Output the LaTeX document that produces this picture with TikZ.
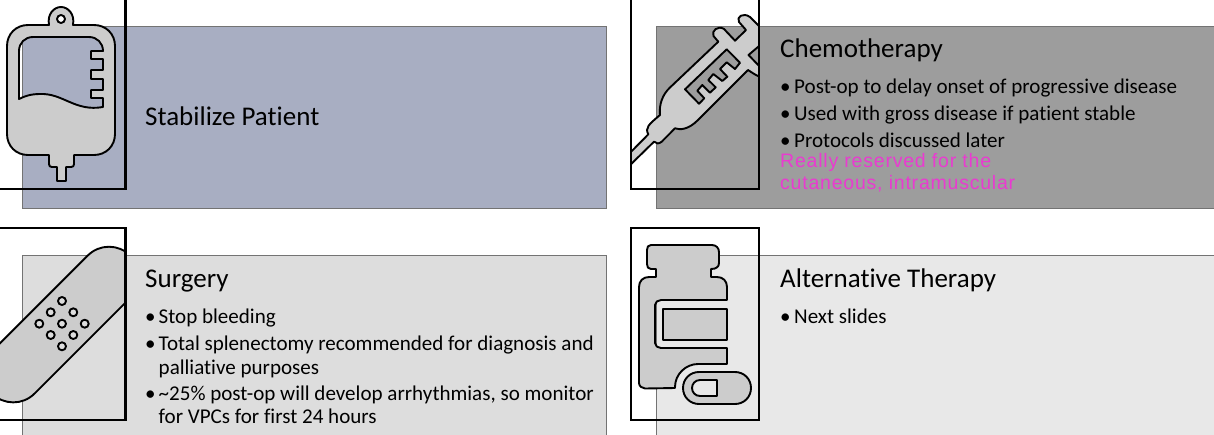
\documentclass[tikz,border=0pt]{standalone}
\usepackage{fontspec}
\setmainfont{Carlito}[Ligatures=CommonOff]
\newfontfamily\magfont[LetterSpace=4]{Liberation Sans}
\definecolor{panelA}{HTML}{A8AEC2}
\definecolor{panelB}{HTML}{9D9D9D}
\definecolor{panelC}{HTML}{DDDDDD}
\definecolor{panelD}{HTML}{E8E8E8}
\definecolor{icongray}{HTML}{CCCCCC}
\definecolor{mag}{HTML}{E93BD0}
\tikzset{
 panel/.style={draw=black!55,line width=0.8pt},
 frame/.style={draw=black,line width=2.3pt},
 icon/.style={draw=black,fill=icongray,line width=1.9pt,line join=round,even odd rule},
 title/.style={anchor=base west,inner sep=0pt,font=\fontsize{27}{30}\selectfont,text=black},
 body/.style={anchor=base west,inner sep=0pt,font=\fontsize{21.05}{24}\selectfont,text=black},
 dotmark/.style={anchor=base west,inner sep=0pt,font=\fontsize{21}{24}\selectfont},
 magtext/.style={anchor=base west,inner sep=0pt,font=\magfont\fontsize{19.5}{22}\selectfont,text=mag},
}
\begin{document}
\begin{tikzpicture}[x=1pt,y=-1pt]
\useasboundingbox (0,0) rectangle (1214,434);
\fill[white] (0,0) rectangle (1214,434);
% panels
\path[panel,fill=panelA] (22.5,26) rectangle (606.5,208);
\path[panel,fill=panelB] (656,26) rectangle (1220,208);
\path[panel,fill=panelC] (22.5,255.5) rectangle (606.5,440);
\path[panel,fill=panelD] (656,255.5) rectangle (1220,440);
% IV bag
\path[icon] (28,25) -- (49,25) .. controls (47,14) and (54,7) .. (61,7) .. controls (68,7) and (75,14) .. (73,25) -- (94,25)
 .. controls (106,25) and (115,34) .. (115,46) -- (115,134) .. controls (115,146) and (106,155) .. (94,155) -- (74,155) -- (74,164) .. controls (74,166) and (73,167) .. (71,167) -- (66,167) -- (66,181) -- (57,181) -- (57,167) -- (52,167) .. controls (50,167) and (49,166) .. (49,164) -- (49,155) -- (28,155)
 .. controls (16,155) and (7,146) .. (7,134) -- (7,46) .. controls (7,34) and (16,25) .. (28,25) -- cycle
 (61,19) circle (4)
 (19,99) -- (19,51) .. controls (19,43) and (25,37) .. (33,37) -- (89,37) .. controls (97,37) and (103,43) .. (103,51) -- (91,51) -- (91,59) -- (103,59) -- (103,70) -- (91,70) -- (91,79) -- (103,79) -- (103,90) -- (91,90) -- (91,98) -- (103,98) -- (103,107)
 .. controls (75,112) and (63,93) .. (40,94) .. controls (31,94) and (25,96) .. (19,99) -- cycle;
\draw[frame] (-3,-3) rectangle (125.5,189);
\node[title] (t1) at (145,125) {Stabilize Patient};
% syringe
\begin{scope}
\clip (631,0) rectangle (759,189);
\path[icon] (625,158) -- (648.3,134.3) .. controls (645,128) and (648,125) .. (660,115) .. controls (659,105) and (662,95) .. (670,87.5) -- (718.3,41.7) -- (713.5,36) .. controls (711,31) and (718,25) .. (724,29) -- (735,40.7) -- (746,30) -- (739,22) .. controls (736,17) and (743,12) .. (750,17) -- (765,32) -- (765,41) -- (748.5,55) -- (765,72) -- (765,78) .. controls (761,78) and (757,76) .. (748,70) -- (698,120) .. controls (688,130) and (680,130) .. (675,128.3) -- (661.7,141.7) .. controls (659,144) and (656,144) .. (654,141.7) -- (625,170) -- cycle
 (685,89.3) -- (726.7,49.3) -- (740,62.7) -- (735,69) -- (726.7,62.3) -- (720,69) -- (727.3,76.7) -- (722.3,81) -- (713.3,74) -- (708.3,80) -- (715.7,87.3) -- (710,92.7) -- (702.3,85) -- (697.3,90.7) -- (704.3,98.3) -- (699,103.7) -- cycle;
\end{scope}
\draw[frame] (631,-3) rectangle (759,189);
\node[title] (t2) at (780,57) {Chemotherapy};
\node[dotmark] (b21) at (780,93) {•};
\node[body] (l21) at (794,93) {Post-op to delay onset of progressive disease};
\node[dotmark] (b22) at (780,120) {•};
\node[body] (l22) at (794,120) {Used with gross disease if patient stable};
\node[dotmark] (b23) at (780,147) {•};
\node[body] (l23) at (794,147) {Protocols discussed later};
\node[magtext] (m1) at (780,167) {Really reserved for the};
\node[magtext] (m2) at (780,189) {cutaneous, intramuscular};
% bandage
\begin{scope}
\clip (-1,228) rectangle (125.5,420);
\path[icon] (-7.9,351.2) -- (87.8,255.5) .. controls (99.5,243.8) and (118.5,243.8) .. (130.2,255.5) .. controls (141.9,267.2) and (141.9,286.2) .. (130.2,297.9) -- (34.5,393.6) .. controls (22.8,405.3) and (3.8,405.3) .. (-7.9,393.6) -- cycle
 (62,301) circle (4) (50.7,312.3) circle (4) (73.3,312.3) circle (4)
 (39.3,323.7) circle (4) (62,323.7) circle (4) (84.7,323.7) circle (4)
 (50.7,335) circle (4) (73.3,335) circle (4) (62,346.3) circle (4);
\end{scope}
\draw[frame] (-3,228) rectangle (125.5,420);
\node[title] (t3) at (145,287) {Surgery};
\node[dotmark] (b31) at (145,323) {•};
\node[body] (l31) at (158.5,323) {Stop bleeding};
\node[dotmark] (b32) at (145,350) {•};
\node[body] (l32) at (158.5,350) {Total splenectomy recommended for diagnosis and};
\node[body] (l33) at (158.5,374) {palliative purposes};
\node[dotmark] (b34) at (145,400) {•};
\node[body] (l34) at (158.5,400) {\textasciitilde 25\% post-op will develop arrhythmias, so monitor};
\node[body] (l35) at (158.5,423) {for VPCs for first 24 hours};
% bottle
\path[icon] (651,245) -- (712,245) .. controls (716,245) and (719,248) .. (719,252) -- (719,263) .. controls (719,267) and (716,269) .. (711,269) -- (711,277) -- (717,277) .. controls (723,277) and (727,281) .. (727,287) -- (727,300) -- (661,300) .. controls (658,300) and (655,302) .. (655,305) -- (655,343) .. controls (655,346) and (658,348) .. (661,348) -- (727,348) -- (727,364) -- (698,364) .. controls (686,364) and (675,374) .. (675,387) -- (675,388) -- (645,388.5) .. controls (642,388.5) and (639,386) .. (639,383) -- (639,287) .. controls (639,281) and (643,277) .. (649,277) -- (656,277) -- (656,269) -- (651,269) .. controls (648,269) and (647,267) .. (647,264) -- (647,250) .. controls (647,247) and (648,245) .. (651,245) -- cycle;
\path[icon] (663.3,308.7) rectangle (727,340);
\path[icon] (699,372) -- (735,372) .. controls (744,372) and (751,379) .. (751,388) .. controls (751,397) and (744,404) .. (735,404) -- (699,404) .. controls (690,404) and (683,397) .. (683,388) .. controls (683,379) and (690,372) .. (699,372) -- cycle
 (717,380) -- (717,396) -- (700,396) .. controls (695,396) and (692,392) .. (692,388) .. controls (692,384) and (695,380) .. (700,380) -- cycle;
\draw[frame] (631,228) rectangle (759,420);
\node[title] (t4) at (780,287) {Alternative Therapy};
\node[dotmark] (b41) at (780,323) {•};
\node[body] (l41) at (794,323) {Next slides};
\end{tikzpicture}
\end{document}
